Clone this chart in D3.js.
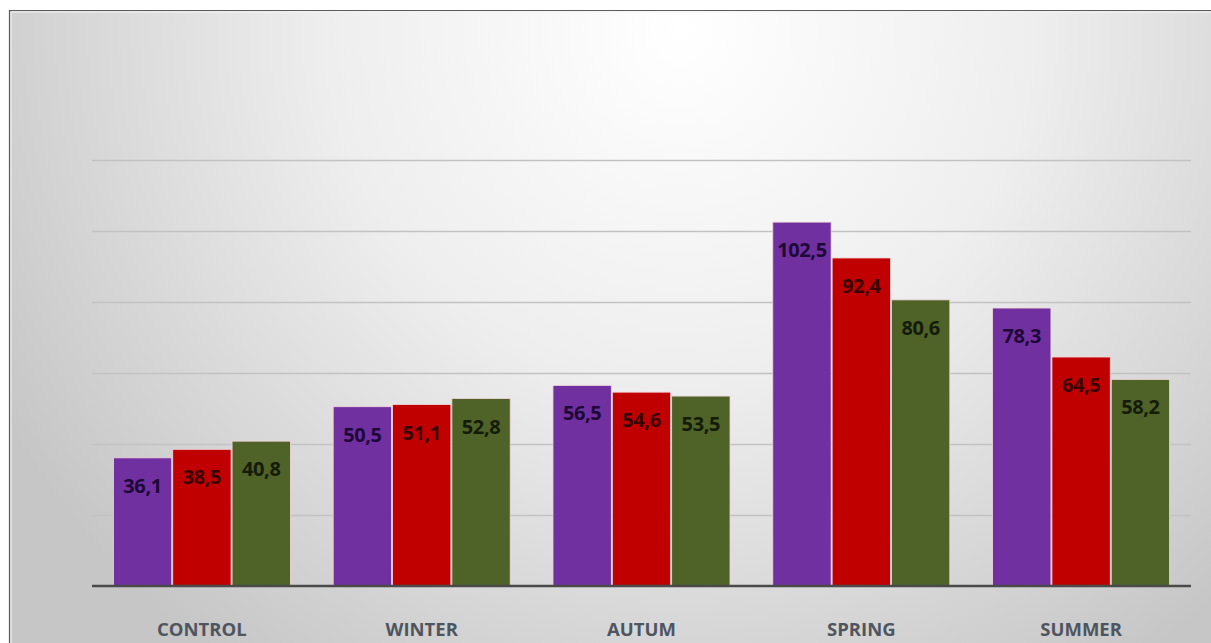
<!DOCTYPE html>
<html>
<head>
<meta charset="utf-8">
<script src="https://cdn.jsdelivr.net/npm/d3@7"></script>
<style>
  html, body { margin: 0; padding: 0; background: #fff; }
  svg { display: block; }
</style>
</head>
<body>
<script>
// categories, series and values
var categories = ["CONTROL", "WINTER", "AUTUM", "SPRING", "SUMMER"];
var seriesNames = ["s1", "s2", "s3"];
var seriesA = [36.1, 50.5, 56.5, 102.5, 78.3];
var seriesB = [38.5, 51.1, 54.6, 92.4, 64.5];
var seriesC = [40.8, 52.8, 53.5, 80.6, 58.2];
var gridValues = [20, 40, 60, 80, 100, 120];

var barColors = ["#7030a0", "#c00000", "#4f6228"];
var labelColors = ["#1e0838", "#3a0000", "#141c08"];

var width = 1211, height = 643;
var svg = d3.select("body").append("svg")
  .attr("width", width)
  .attr("height", height);

// background gradient, light at the top middle, grey towards the edges
var defs = svg.append("defs");
var grad = defs.append("radialGradient")
  .attr("id", "bg")
  .attr("gradientUnits", "userSpaceOnUse")
  .attr("cx", 680).attr("cy", 30).attr("r", 780);
grad.append("stop").attr("offset", "0%").attr("stop-color", "#ffffff");
grad.append("stop").attr("offset", "45%").attr("stop-color", "#eeeeee");
grad.append("stop").attr("offset", "100%").attr("stop-color", "#c6c6c6");

svg.append("rect")
  .attr("x", 10).attr("y", 11)
  .attr("width", width).attr("height", height)
  .attr("fill", "url(#bg)");
// frame (only left and top show)
svg.append("path")
  .attr("d", "M9.5," + height + "V10.5H" + width)
  .attr("fill", "none")
  .attr("stroke", "#5a5a5a")
  .attr("stroke-width", 1.2);
svg.append("path")
  .attr("d", "M11," + height + "V12H" + width)
  .attr("fill", "none")
  .attr("stroke", "#f4f4f4")
  .attr("stroke-width", 1);

var left = 92, right = 1191;
var x = d3.scaleBand().domain(categories).range([left, right]).paddingInner(0.19).paddingOuter(0.095);
var xs = d3.scaleBand().domain(seriesNames).range([0, x.bandwidth()]);
var y = d3.scaleLinear().domain([0, 120]).range([586, 160]);

// gridlines
svg.append("g").selectAll("line")
  .data(gridValues)
  .enter().append("line")
  .attr("x1", left).attr("x2", right)
  .attr("y1", function(d) { return Math.round(y(d)) + 0.5; })
  .attr("y2", function(d) { return Math.round(y(d)) + 0.5; })
  .attr("stroke", "#c2c2c2")
  .attr("stroke-width", 1.3);

var rows = categories.map(function(c, i) {
  return { cat: c, vals: [seriesA[i], seriesB[i], seriesC[i]] };
});

var groups = svg.append("g").selectAll("g")
  .data(rows)
  .enter().append("g")
  .attr("transform", function(d) { return "translate(" + x(d.cat) + ",0)"; });

groups.selectAll("rect")
  .data(function(d) { return d.vals.map(function(v, k) { return { k: k, v: v }; }); })
  .enter().append("rect")
  .attr("x", function(d) { return xs(seriesNames[d.k]) + 0.5; })
  .attr("width", xs.bandwidth() - 1)
  .attr("y", function(d) { return y(d.v); })
  .attr("height", function(d) { return y(0) - y(d.v); })
  .attr("fill", function(d) { return barColors[d.k]; })
  .attr("stroke", "#f3d6dc")
  .attr("stroke-width", 0.8);

groups.selectAll("text")
  .data(function(d) { return d.vals.map(function(v, k) { return { k: k, v: v }; }); })
  .enter().append("text")
  .attr("x", function(d) { return xs(seriesNames[d.k]) + xs.bandwidth() / 2; })
  .attr("y", function(d) { return y(d.v) + 35; })
  .attr("text-anchor", "middle")
  .attr("font-family", "'Open Sans', sans-serif")
  .attr("font-weight", "bold")
  .attr("font-size", "20px")
  .attr("letter-spacing", "-0.4px")
  .attr("fill", function(d) { return labelColors[d.k]; })
  .text(function(d) { return d3.format(".1f")(d.v).replace(".", ","); });

// baseline
svg.append("line")
  .attr("x1", left).attr("x2", right)
  .attr("y1", y(0)).attr("y2", y(0))
  .attr("stroke", "#4a4a4a")
  .attr("stroke-width", 2.5);

// category labels
var xAxis = d3.axisBottom(x).tickSize(0).tickPadding(0);
var ax = svg.append("g")
  .attr("transform", "translate(0," + y(0) + ")")
  .call(xAxis);
ax.select(".domain").remove();
ax.selectAll("text")
  .attr("dy", null)
  .attr("y", 50)
  .attr("font-family", "'Open Sans', sans-serif")
  .attr("font-weight", "bold")
  .attr("font-size", "18.5px")
  .attr("fill", "#4f5560");
</script>
</body>
</html>
